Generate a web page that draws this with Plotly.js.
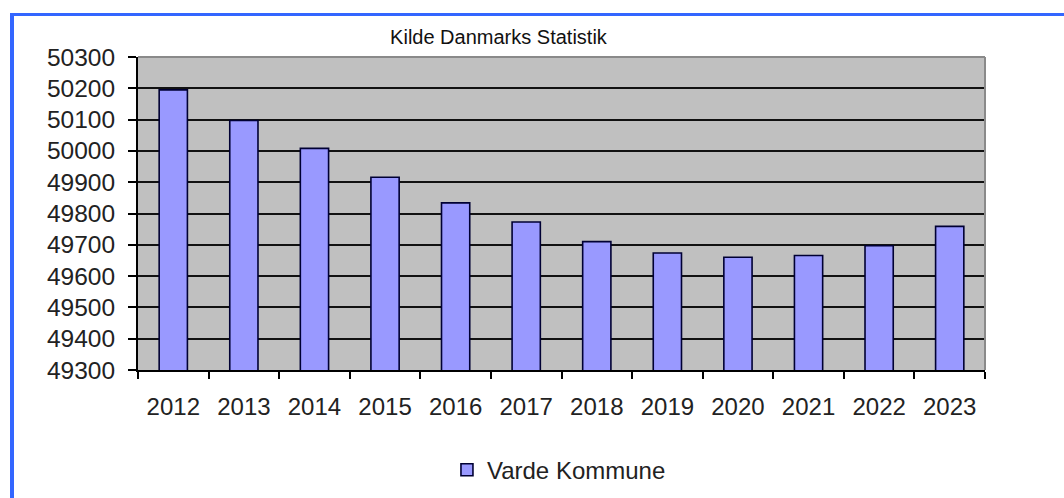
<!DOCTYPE html>
<html>
<head>
<meta charset="utf-8">
<script src="https://cdn.plot.ly/plotly-3.0.1.min.js"></script>
<style>
  html, body { margin: 0; padding: 0; background: #ffffff; }
  #wrap { position: relative; width: 1064px; height: 498px; overflow: hidden; }
  #chart { position: absolute; left: 0; top: 0; width: 1064px; height: 498px; }
  #frame { position: absolute; left: 10px; top: 13px; width: 1060px; height: 500px;
           border-left: 4px solid #3366ff; border-top: 3px solid #3366ff; pointer-events: none; }
</style>
</head>
<body>
<div id="wrap">
  <div id="chart"></div>
  <div id="frame"></div>
</div>
<script>
const years = ['2012','2013','2014','2015','2016','2017','2018','2019','2020','2021','2022','2023'];
const population = [50195, 50097, 50008, 49916, 49834, 49773, 49710, 49674, 49660, 49666, 49697, 49759];
const seriesName = 'Varde Kommune';
const chartTitle = 'Kilde Danmarks Statistik';
const yTicks = [49300, 49400, 49500, 49600, 49700, 49800, 49900, 50000, 50100, 50200, 50300];

const font = 'Arial, "Liberation Sans", sans-serif';

const trace = {
  type: 'bar',
  x: years,
  y: population,
  name: seriesName,
  showlegend: true,
  marker: { color: '#9999ff', line: { color: '#000033', width: 1.6 } },
  hoverinfo: 'x+y'
};

const layout = {
  width: 1064,
  height: 498,
  margin: { l: 138, r: 79, t: 57, b: 128, autoexpand: false },
  paper_bgcolor: '#ffffff',
  plot_bgcolor: '#c0c0c0',
  bargap: 0.6,
  title: {
    text: chartTitle,
    font: { family: font, size: 20, color: '#111111' },
    x: 0.4256, xref: 'paper', xanchor: 'center',
    y: 0.926, yref: 'container', yanchor: 'middle'
  },
  xaxis: {
    type: 'category',
    tickson: 'boundaries',
    ticks: 'outside',
    ticklen: 7,
    tickwidth: 2,
    tickcolor: '#000000',
    showline: true,
    linecolor: '#000000',
    linewidth: 2,
    showgrid: false,
    ticklabelstandoff: 14,
    tickfont: { family: font, size: 24, color: '#222222' },
    fixedrange: true
  },
  yaxis: {
    range: [49300, 50300],
    tickvals: yTicks,
    ticktext: yTicks.map(String),
    ticks: 'outside',
    ticklen: 8,
    tickwidth: 2,
    tickcolor: '#000000',
    showline: true,
    linecolor: '#000000',
    linewidth: 2,
    showgrid: true,
    gridcolor: '#111111',
    gridwidth: 2,
    zeroline: false,
    ticklabelstandoff: 8,
    tickfont: { family: font, size: 24.5, color: '#222222' },
    fixedrange: true
  },
  legend: {
    orientation: 'h',
    x: 0.497, xanchor: 'center',
    y: 0.056, yref: 'container', yanchor: 'middle',
    font: { family: font, size: 24, color: '#222222' },
    bgcolor: 'rgba(0,0,0,0)'
  },
  shapes: [
    { type: 'line', xref: 'paper', yref: 'paper', x0: 0, x1: 1, y0: 1, y1: 1,
      line: { color: '#8a8a8a', width: 2 }, layer: 'above' },
    { type: 'line', xref: 'paper', yref: 'paper', x0: 1, x1: 1, y0: 0, y1: 1,
      line: { color: '#8a8a8a', width: 2 }, layer: 'above' }
  ]
};

Plotly.newPlot('chart', [trace], layout, { displayModeBar: false, staticPlot: false });
</script>
</body>
</html>
